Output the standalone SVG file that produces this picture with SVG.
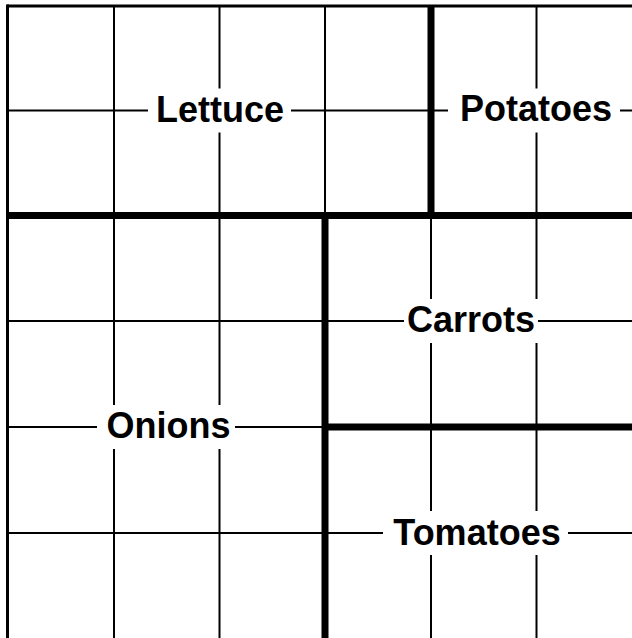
<svg xmlns="http://www.w3.org/2000/svg" width="632" height="638" viewBox="0 0 632 638">
<style>
.thin{stroke:#000;stroke-width:2;fill:none}
.thick{stroke:#000;stroke-width:7;fill:none}
.border{stroke:#000;stroke-width:3;fill:none}
.bg{fill:#fff}
.lbl{font-family:"Liberation Sans",Arial,sans-serif;font-weight:bold;font-size:36px;fill:#000;text-anchor:middle}
</style>
<rect width="632" height="638" fill="#fff"/>
<g id="grid">
<line class="thin" x1="114" y1="6" x2="114" y2="638"/>
<line class="thin" x1="219.5" y1="6" x2="219.5" y2="638"/>
<line class="thin" x1="325" y1="6" x2="325" y2="638"/>
<line class="thin" x1="431" y1="6" x2="431" y2="638"/>
<line class="thin" x1="536.5" y1="6" x2="536.5" y2="638"/>
<line class="thin" x1="7" y1="110.5" x2="632" y2="110.5"/>
<line class="thin" x1="7" y1="215.5" x2="632" y2="215.5"/>
<line class="thin" x1="7" y1="321" x2="632" y2="321"/>
<line class="thin" x1="7" y1="427" x2="632" y2="427"/>
<line class="thin" x1="7" y1="533" x2="632" y2="533"/>
</g>
<g id="connectors">
<line class="border" x1="7" y1="6" x2="632" y2="6"/>
<line class="border" x1="7.5" y1="4.5" x2="7.5" y2="638"/>
<line class="thick" x1="431" y1="6" x2="431" y2="215.5"/>
<line class="thick" x1="7" y1="215.5" x2="632" y2="215.5"/>
<line class="thick" x1="325" y1="212" x2="325" y2="638"/>
<line class="thick" x1="325" y1="427" x2="632" y2="427"/>
</g>
<g id="lettuce">
<rect class="bg" x="148" y="88.5" width="143" height="44"/>
<text class="lbl" x="220" y="121.5">Lettuce</text>
</g>
<g id="potatoes">
<rect class="bg" x="448" y="88.5" width="172" height="44"/>
<text class="lbl" x="536" y="121">Potatoes</text>
</g>
<g id="carrots">
<rect class="bg" x="404" y="299" width="134" height="44"/>
<text class="lbl" x="471" y="332">Carrots</text>
</g>
<g id="onions">
<rect class="bg" x="97" y="405" width="138" height="44"/>
<text class="lbl" x="168.5" y="438">Onions</text>
</g>
<g id="tomatoes">
<rect class="bg" x="383" y="511" width="185" height="44"/>
<text class="lbl" x="477" y="545">Tomatoes</text>
</g>
</svg>
